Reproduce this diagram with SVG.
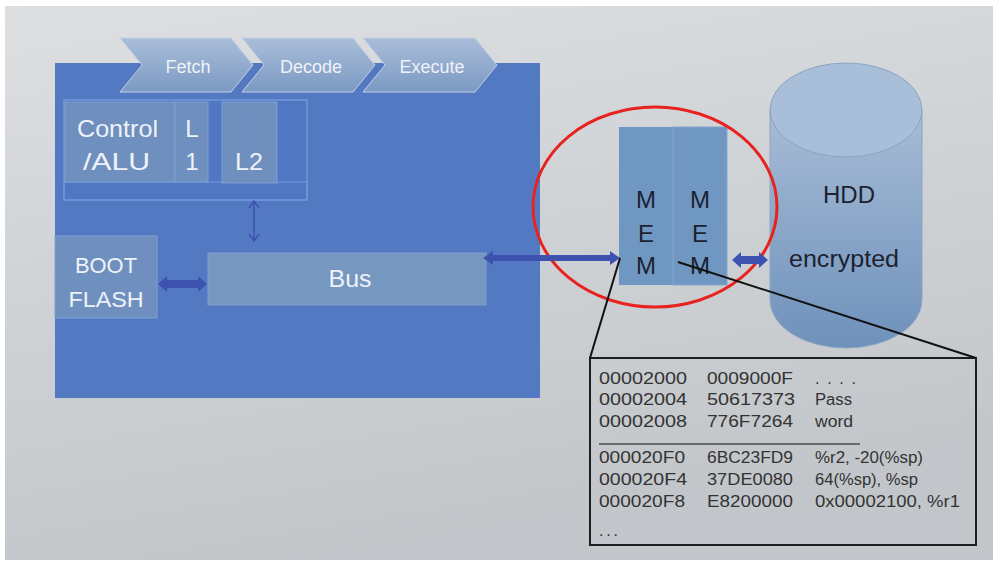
<svg xmlns="http://www.w3.org/2000/svg" width="995" height="562" viewBox="0 0 995 562">
<defs>
<linearGradient id="bg" x1="0" y1="0" x2="0.3" y2="1">
<stop offset="0" stop-color="#dddfe1"/>
<stop offset="1" stop-color="#c2c6ca"/>
</linearGradient>
<linearGradient id="chev" x1="0" y1="0" x2="0" y2="1">
<stop offset="0" stop-color="#aabed9"/>
<stop offset="1" stop-color="#7b99c3"/>
</linearGradient>
<linearGradient id="cyl" x1="0" y1="0" x2="0" y2="1">
<stop offset="0" stop-color="#a7bcd6"/>
<stop offset="1" stop-color="#6e91bb"/>
</linearGradient>
<style>
.lbl{font-family:"Liberation Sans",Arial,sans-serif;fill:#eef2f8;}
.dark{font-family:"Liberation Sans",Arial,sans-serif;fill:#1c2230;}
.dump{font-family:"Liberation Sans",Arial,sans-serif;font-size:16px;fill:#333;}
.box{fill:#6f90bf;stroke:#7fa0d2;stroke-width:1;}
.chev{fill:url(#chev);stroke:#c3d1e5;stroke-width:1;}
.blk{fill:#3c52ae;}
</style>
</defs>
<rect x="5" y="6" width="988" height="554" fill="url(#bg)"/>

<g id="cpu">
<rect x="55" y="63" width="485" height="335" fill="#5479c3"/>
</g>

<g id="fetch">
<path class="chev" d="M120,38 L231,38 L253,65 L231,92 L120,92 L142,65 Z"/>
<text class="lbl" x="188" y="73" font-size="18" text-anchor="middle">Fetch</text>
</g>
<g id="decode">
<path class="chev" d="M242,38 L353,38 L375,65 L353,92 L242,92 L264,65 Z"/>
<text class="lbl" x="311" y="73" font-size="18" text-anchor="middle">Decode</text>
</g>
<g id="execute">
<path class="chev" d="M363,38 L475,38 L497,65 L475,92 L363,92 L385,65 Z"/>
<text class="lbl" x="432" y="73" font-size="18" text-anchor="middle">Execute</text>
</g>

<g id="core">
<rect x="64" y="100" width="243" height="100" fill="#5177c2" stroke="#6f98da" stroke-width="1.5"/>
<rect x="64" y="182" width="243" height="18" fill="none" stroke="#6f98da" stroke-width="1"/>
</g>
<g id="control-alu">
<rect class="box" x="65" y="102" width="110" height="80"/>
<text class="lbl" x="77" y="137" font-size="24" textLength="81" lengthAdjust="spacingAndGlyphs">Control</text>
<text class="lbl" x="83" y="170" font-size="24" textLength="67" lengthAdjust="spacingAndGlyphs">/ALU</text>
</g>
<g id="l1">
<rect class="box" x="175" y="102" width="33" height="80"/>
<text class="lbl" x="192" y="137" font-size="24" text-anchor="middle">L</text>
<text class="lbl" x="192" y="170" font-size="24" text-anchor="middle">1</text>
</g>
<g id="l2">
<rect class="box" x="222" y="102" width="55" height="81"/>
<rect x="232" y="106" width="38" height="73" fill="none" stroke="#7895c0" stroke-width="0.6"/>
<text class="lbl" x="249" y="170" font-size="24" text-anchor="middle" textLength="28" lengthAdjust="spacingAndGlyphs">L2</text>
</g>

<g id="boot-flash">
<rect class="box" x="55" y="236" width="102" height="82" stroke="none"/>
<text class="lbl" x="106" y="273" font-size="22" text-anchor="middle" textLength="62" lengthAdjust="spacingAndGlyphs">BOOT</text>
<text class="lbl" x="106" y="307" font-size="22" text-anchor="middle" textLength="75" lengthAdjust="spacingAndGlyphs">FLASH</text>
</g>

<g id="bus">
<rect x="208" y="253" width="278" height="52" fill="#7698c0" stroke="#7fa0d0" stroke-width="1"/>
<text class="lbl" x="350" y="287" font-size="24" text-anchor="middle" textLength="43" lengthAdjust="spacingAndGlyphs">Bus</text>
</g>

<g id="mem1">
<rect x="619" y="127" width="54" height="158" fill="#7097c2"/>
<text class="dark" x="646" y="208" font-size="24" text-anchor="middle">M</text>
<text class="dark" x="646" y="242" font-size="24" text-anchor="middle">E</text>
<text class="dark" x="646" y="274" font-size="24" text-anchor="middle">M</text>
</g>
<g id="mem2">
<rect x="673" y="127" width="54" height="158" fill="#7097c2" stroke="#82a5cc" stroke-width="1"/>
<text class="dark" x="700" y="208" font-size="24" text-anchor="middle">M</text>
<text class="dark" x="700" y="242" font-size="24" text-anchor="middle">E</text>
<text class="dark" x="700" y="274" font-size="24" text-anchor="middle">M</text>
</g>

<g id="hdd">
<path d="M770,110 L770,300 A76,48 0 0 0 922,300 L922,110 Z" fill="url(#cyl)" stroke="#8ba5c5" stroke-width="1"/>
<ellipse cx="846" cy="110" rx="76" ry="47" fill="#a9bed8" stroke="#8aa4c4" stroke-width="1"/>
<text class="dark" x="849" y="203" font-size="23" text-anchor="middle" textLength="52" lengthAdjust="spacingAndGlyphs">HDD</text>
<text class="dark" x="844" y="267" font-size="23" text-anchor="middle" textLength="110" lengthAdjust="spacingAndGlyphs">encrypted</text>
</g>

<g id="highlight">
<ellipse cx="655" cy="207" rx="122" ry="100" fill="none" stroke="#e8231f" stroke-width="3"/>
</g>

<g id="memory-dump">
<rect x="590" y="358" width="386" height="187" fill="none" stroke="#1e1e1e" stroke-width="2"/>
<text class="dump" x="599" y="384" textLength="88" lengthAdjust="spacingAndGlyphs">00002000</text>
<text class="dump" x="707" y="384" textLength="86" lengthAdjust="spacingAndGlyphs">0009000F</text>
<text class="dump" x="815" y="384" textLength="41" lengthAdjust="spacing">. . . .</text>
<text class="dump" x="599" y="405" textLength="88" lengthAdjust="spacingAndGlyphs">00002004</text>
<text class="dump" x="707" y="405" textLength="88" lengthAdjust="spacingAndGlyphs">50617373</text>
<text class="dump" x="815" y="405" textLength="37" lengthAdjust="spacingAndGlyphs">Pass</text>
<text class="dump" x="599" y="427" textLength="88" lengthAdjust="spacingAndGlyphs">00002008</text>
<text class="dump" x="707" y="427" textLength="86" lengthAdjust="spacingAndGlyphs">776F7264</text>
<text class="dump" x="815" y="427" textLength="38" lengthAdjust="spacingAndGlyphs">word</text>
<line x1="599" y1="444" x2="860" y2="444" stroke="#4a4a4a" stroke-width="1.5"/>
<text class="dump" x="599" y="463" textLength="86" lengthAdjust="spacingAndGlyphs">000020F0</text>
<text class="dump" x="707" y="463" textLength="86" lengthAdjust="spacingAndGlyphs">6BC23FD9</text>
<text class="dump" x="815" y="463" textLength="108" lengthAdjust="spacingAndGlyphs">%r2, -20(%sp)</text>
<text class="dump" x="599" y="485" textLength="88" lengthAdjust="spacingAndGlyphs">000020F4</text>
<text class="dump" x="707" y="485" textLength="86" lengthAdjust="spacingAndGlyphs">37DE0080</text>
<text class="dump" x="815" y="485" textLength="103" lengthAdjust="spacingAndGlyphs">64(%sp), %sp</text>
<text class="dump" x="599" y="507" textLength="86" lengthAdjust="spacingAndGlyphs">000020F8</text>
<text class="dump" x="707" y="507" textLength="86" lengthAdjust="spacingAndGlyphs">E8200000</text>
<text class="dump" x="815" y="507" textLength="145" lengthAdjust="spacingAndGlyphs">0x00002100, %r1</text>
<text class="dump" x="599" y="536" textLength="19" lengthAdjust="spacing">. . .</text>
</g>

<g id="connectors">
<line x1="254" y1="202" x2="254" y2="240" stroke="#3c52ae" stroke-width="1.5"/>
<polyline points="249,208 254,201 259,208" fill="none" stroke="#3c52ae" stroke-width="1.5"/>
<polyline points="249,234 254,241 259,234" fill="none" stroke="#3c52ae" stroke-width="1.5"/>
<path class="blk" d="M158,284 L167,276 L167,280 L198,280 L198,276 L207,284 L198,292 L198,288 L167,288 L167,292 Z"/>
<path class="blk" d="M483,258 L493,251 L493,255 L610,255 L610,251 L620,258 L610,265 L610,261 L493,261 L493,265 Z"/>
<path class="blk" d="M732,260 L741,252 L741,256 L759,256 L759,252 L768,260 L759,268 L759,264 L741,264 L741,268 Z" fill="#4a62c0"/>
<line x1="620" y1="258" x2="590" y2="358" stroke="#111" stroke-width="2"/>
<line x1="678" y1="262" x2="976" y2="358" stroke="#111" stroke-width="2"/>
</g>
</svg>
